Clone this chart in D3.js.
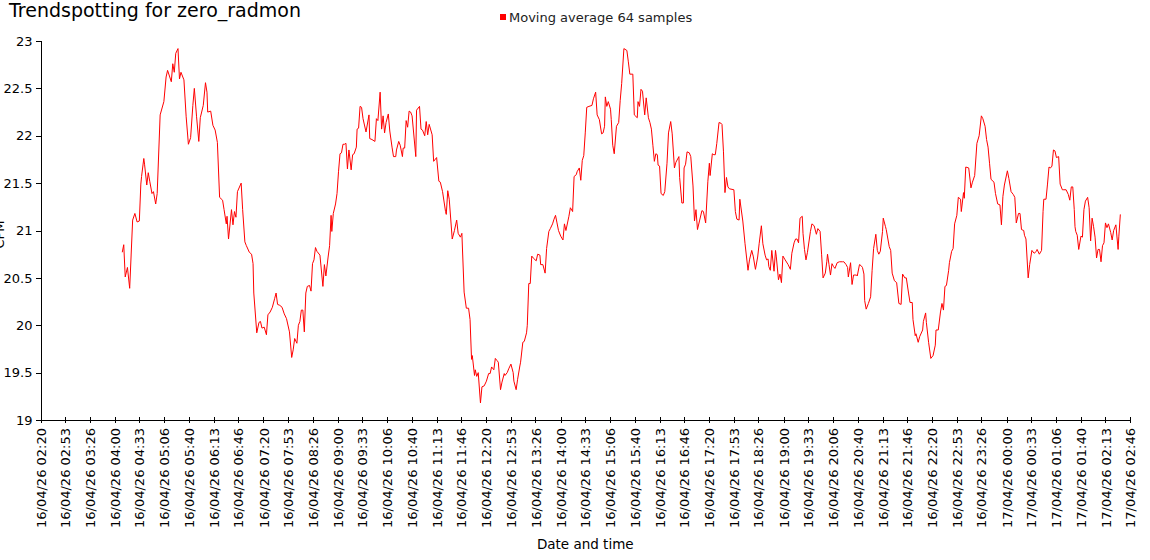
<!DOCTYPE html>
<html>
<head>
<meta charset="utf-8">
<script src="https://cdn.jsdelivr.net/npm/d3@7"></script>
<style>
  html, body { margin: 0; padding: 0; background: #fff; }
  svg { display: block; }
  text { font-family: "DejaVu Sans", Verdana, sans-serif; }
</style>
</head>
<body>
<svg id="chart" width="1150" height="560"></svg>
<script>
// ---- DATA ----
const chartTitle = "Trendspotting for zero_radmon";
const seriesName = "Moving average 64 samples";
const yAxisTitle = "CPM";
const xAxisTitle = "Date and time";

// sample times: minutes after 16/04/26 00:00
const sampleMinutes = [
250,252,254,257,260,264,267,270,273,275,276,279,280,283,285,287,290,292,295,297,
301,306,309,311,316,318,320,322,325,327,329,333,336,339,342,345,347,350,353,355,
359,362,364,365,369,372,375,378,381,385,387,390,391,393,397,399,401,403,405,410,
412,415,417,421,424,426,427,431,434,436,438,441,444,446,449,452,455,457,459,462,
465,468,471,475,478,480,482,485,487,489,491,493,495,
497,499,502,504,506,508,510,512,516,520,522,524,527,529,531,532,534,537,539,541,
543,545,547,549,551,553,555,558,560,562,565,566,568,570,572,574,578,582,583,586,
590,592,594,597,599,601,603,605,608,610,613,615,618,619,622,624,627,628,630,632,
634,636,638,640,645,646,650,652,654,657,659,661,663,667,669,673,676,678,681,685,
686,688,690,694,697,700,702,705,707,710,713,716,718,720,721,724,725,727,729,732,
734,737,740,743,
745,747,750,752,754,756,759,761,764,765,768,770,773,776,777,780,782,785,786,789,
791,794,795,797,799,801,803,807,809,812,813,816,819,821,824,826,829,831,833,835,
837,840,843,845,847,851,853,856,858,861,862,865,867,869,871,873,875,878,882,884,
887,889,892,895,897,899,900,902,904,907,908,910,912,915,918,920,922,925,929,931,
933,937,939,943,944,946,948,950,953,955,958,960,962,964,966,968,970,971,973,975,
978,980,983,985,988,990,993,995,999,1000,1003,1005,
1006,1008,1010,1013,1015,1018,1020,1022,1024,1027,1030,1032,1035,1038,1040,1041,1044,1046,1048,1050,
1053,1056,1057,1059,1061,1063,1065,1067,1073,1075,1077,1080,1081,1085,1088,1092,1094,1097,1099,1102,
1105,1107,1110,1112,1115,1117,1119,1120,1122,1124,1127,1129,1130,1133,1135,1137,1139,1142,1146,1149,
1151,1154,1156,1158,1160,1162,1165,1166,1168,1170,1172,1176,1178,1181,1184,1186,1189,1191,1193,1196,
1198,1199,1201,1203,1205,1207,1209,1212,1215,1219,1221,1224,1226,1227,1230,1232,1234,1238,1239,1242,
1244,1246,1248,1249,1251,1254,1257,
1259,1261,1264,1266,1268,1270,1273,1274,1277,1278,1282,1284,1286,1289,1292,1295,1298,1300,1303,1305,
1308,1310,1313,1314,1317,1318,1321,1323,1327,1328,1331,1332,1335,1338,1341,1344,1345,1348,1351,1353,
1355,1357,1359,1362,1363,1366,1368,1370,1373,1375,1378,1379,1382,1383,1385,1389,1392,1394,1397,1400,
1403,1406,1408,1411,1413,1415,1417,1419,1423,1425,1428,1431,1433,1435,1437,1441,1443,1446,1449,1451,
1453,1456,1458,1460,1463,1464,1466,1469,1471,1474,1477,1480,1481,1484,1487,1489,1490,1493,1495,1497,
1499,1501,1503,1505,1507,1510,1512,1515,1517,1520,1523,
1525,1527,1529,1531,1532,1533,1535,1537,1540,1542,1544,1546,1549,1551,1553,1555,1557,1559,1561,1563,
1565,1567,1569,1571,1573,1575,1577,1580,1582,1584,1587,1590,1591,1593
];

const sampleValues = [
20.77,20.85,20.51,20.61,20.39,21.11,21.18,21.09,21.10,21.49,21.57,21.76,21.70,21.48,21.61,21.52,21.39,21.41,21.28,21.39,
22.22,22.36,22.62,22.69,22.57,22.76,22.67,22.87,22.92,22.60,22.67,22.59,22.20,21.91,21.98,22.32,22.50,22.20,21.94,22.19,
22.32,22.56,22.46,22.25,22.26,22.11,22.06,21.93,21.35,21.32,21.22,21.07,21.15,20.91,21.22,21.06,21.20,21.14,21.41,21.50,
21.22,20.88,20.84,20.77,20.75,20.65,20.34,19.92,20.03,20.04,19.97,19.98,19.90,20.11,20.14,20.19,20.28,20.34,20.22,20.21,
20.19,20.12,20.07,19.93,19.66,19.74,19.86,19.81,20.00,20.04,20.16,20.16,19.93,
20.34,20.41,20.42,20.36,20.65,20.69,20.82,20.78,20.74,20.41,20.64,20.52,20.72,20.84,21.16,20.99,21.18,21.28,21.39,21.62,
21.81,21.82,21.91,21.91,21.92,21.65,21.85,21.64,21.80,21.81,21.88,22.07,22.08,22.31,22.30,22.18,22.04,22.22,21.97,21.96,
21.94,22.18,22.16,22.46,22.07,22.21,22.03,22.14,22.23,22.05,21.88,21.78,21.78,21.85,21.94,21.90,21.78,21.87,21.87,22.16,
22.09,22.26,22.25,22.21,21.78,22.27,22.31,22.07,22.06,22.00,22.15,22.01,22.12,22.01,21.73,21.77,21.52,21.51,21.41,21.20,
21.17,21.42,21.33,20.91,21.00,21.11,20.97,20.93,20.97,20.35,20.18,20.18,20.06,19.64,19.68,19.47,19.53,19.46,19.50,19.18,
19.35,19.36,19.41,19.49,
19.49,19.56,19.53,19.65,19.63,19.61,19.32,19.40,19.49,19.47,19.50,19.54,19.59,19.50,19.41,19.32,19.43,19.57,19.61,19.82,
19.83,19.92,20.00,20.44,20.44,20.73,20.71,20.68,20.75,20.74,20.64,20.64,20.55,20.81,20.99,21.02,21.07,21.12,21.16,21.08,
21.00,20.94,20.90,21.07,21.00,21.15,21.24,21.20,21.57,21.59,21.62,21.66,21.53,21.74,21.79,22.03,22.30,22.31,22.32,22.39,
22.46,22.22,22.17,22.02,22.03,22.10,22.41,22.31,22.36,22.28,22.17,21.90,21.81,22.10,22.14,22.37,22.55,22.92,22.90,22.78,
22.65,22.65,22.22,22.19,22.36,22.31,22.49,22.47,22.22,22.40,22.19,22.14,22.07,21.90,21.73,21.81,21.80,21.69,21.68,21.39,
21.37,21.41,21.71,22.03,22.15,22.02,21.66,21.72,21.78,21.56,21.29,21.29,
21.66,21.70,21.83,21.82,21.78,21.47,21.10,21.22,21.01,21.11,21.21,21.20,21.08,21.52,21.71,21.58,21.81,21.80,21.80,21.92,
22.14,22.13,22.12,21.83,21.40,21.56,21.46,21.44,21.43,21.20,21.12,21.11,21.33,21.10,20.86,20.58,20.69,20.79,20.73,20.59,
20.72,20.86,21.05,20.86,20.74,20.69,20.70,20.62,20.58,20.79,20.57,20.79,20.73,20.48,20.54,20.45,20.73,20.69,20.64,20.59,
20.76,20.87,20.91,20.91,20.87,21.13,21.15,20.97,20.80,20.69,20.77,20.99,21.07,21.05,20.96,21.02,20.99,20.75,20.50,20.55,
20.67,20.75,20.64,20.53,20.65,20.62,20.60,20.66,20.67,20.67,20.67,20.64,20.61,20.51,20.66,20.43,20.53,20.53,20.52,20.64,
20.63,20.61,20.54,20.26,20.17,20.23,20.30,
20.58,20.81,20.96,20.79,20.75,20.78,20.99,21.13,21.04,21.01,20.83,20.79,20.55,20.47,20.45,20.23,20.22,20.54,20.50,20.50,
20.34,20.24,20.24,20.06,19.89,19.91,19.82,19.88,19.95,20.04,20.13,20.03,19.82,19.65,19.68,19.79,19.95,19.95,20.14,20.23,
20.16,20.41,20.42,20.58,20.66,20.78,20.81,21.07,21.16,21.35,21.33,21.20,21.40,21.34,21.67,21.66,21.45,21.51,21.58,21.92,
22.00,22.21,22.18,22.10,21.96,21.88,21.71,21.54,21.51,21.39,21.28,21.27,21.06,21.36,21.48,21.63,21.55,21.41,21.38,21.35,
21.08,21.18,21.18,21.01,21.00,20.95,20.91,20.50,20.64,20.79,20.76,20.78,20.80,20.75,20.79,21.20,21.33,21.33,21.49,21.67,
21.66,21.68,21.85,21.84,21.77,21.78,21.49,21.43,21.43,21.43,21.38,
21.32,21.46,21.46,21.22,21.04,20.99,20.95,20.80,20.94,20.93,21.22,21.31,21.35,21.24,20.89,21.13,21.04,20.93,20.71,20.80,
20.80,20.67,20.84,20.87,21.08,21.03,21.07,20.98,20.90,21.00,21.06,20.80,20.94,21.17
];

const yTickLabels = ["19","19.5","20","20.5","21","21.5","22","22.5","23"];
const xTickLabels = [
"16/04/26 02:20","16/04/26 02:53","16/04/26 03:26","16/04/26 04:00","16/04/26 04:33",
"16/04/26 05:06","16/04/26 05:40","16/04/26 06:13","16/04/26 06:46","16/04/26 07:20",
"16/04/26 07:53","16/04/26 08:26","16/04/26 09:00","16/04/26 09:33","16/04/26 10:06",
"16/04/26 10:40","16/04/26 11:13","16/04/26 11:46","16/04/26 12:20","16/04/26 12:53",
"16/04/26 13:26","16/04/26 14:00","16/04/26 14:33","16/04/26 15:06","16/04/26 15:40",
"16/04/26 16:13","16/04/26 16:46","16/04/26 17:20","16/04/26 17:53","16/04/26 18:26",
"16/04/26 19:00","16/04/26 19:33","16/04/26 20:06","16/04/26 20:40","16/04/26 21:13",
"16/04/26 21:46","16/04/26 22:20","16/04/26 22:53","16/04/26 23:26","17/04/26 00:00",
"17/04/26 00:33","17/04/26 01:06","17/04/26 01:40","17/04/26 02:13","17/04/26 02:46"
];

// ---- CHART ----
const svg = d3.select("#chart");
const m = { left: 40.5, top: 41 };
const innerW = 1130 - m.left, innerH = 420 - m.top;

const parseLabel = d3.timeParse("%d/%m/%y %H:%M");
const base = new Date(2026, 3, 16, 0, 0, 0);
const tickDates = xTickLabels.map(parseLabel);

const data = sampleMinutes.map((mm, i) => ({
  t: new Date(base.getTime() + mm * 60000),
  v: sampleValues[i]
}));

const x = d3.scaleTime()
  .domain([tickDates[0], tickDates[tickDates.length - 1]])
  .range([m.left, m.left + innerW]);
const yVals = yTickLabels.map(Number);
const y = d3.scaleLinear()
  .domain([d3.min(yVals), d3.max(yVals)])
  .range([m.top + innerH, m.top]);

// line
const line = d3.line().x(d => x(d.t)).y(d => y(d.v));
svg.append("path")
  .datum(data)
  .attr("fill", "none")
  .attr("stroke", "#ff0000")
  .attr("stroke-width", 1)
  .attr("stroke-linejoin", "round")
  .attr("d", line);

// x axis
const xAxis = d3.axisBottom(x)
  .tickValues(tickDates)
  .tickFormat((d, i) => xTickLabels[i])
  .tickSize(3)
  .tickPadding(5);
const gx = svg.append("g")
  .attr("transform", `translate(0,${m.top + innerH})`)
  .call(xAxis);
gx.select(".domain").attr("stroke", "#000").attr("d", `M${m.left},0.5H${m.left + innerW}`);
gx.selectAll(".tick line").attr("stroke", "#000").attr("y1", -3).attr("y2", 3);
gx.selectAll(".tick text")
  .attr("fill", "#000")
  .style("font-size", "13px")
  .attr("transform", "rotate(-90)")
  .attr("text-anchor", "end")
  .attr("x", -8)
  .attr("y", 0)
  .attr("dy", "0.35em");

// y axis
const yAxis = d3.axisLeft(y)
  .tickValues(yVals)
  .tickFormat((d, i) => yTickLabels[i])
  .tickSize(5)
  .tickPadding(3);
const gy = svg.append("g")
  .attr("transform", `translate(${m.left},0)`)
  .call(yAxis);
gy.select(".domain").attr("stroke", "#000").attr("d", `M0.5,${m.top}V${m.top + innerH}`);
gy.selectAll(".tick line").attr("stroke", "#000");
gy.selectAll(".tick text").attr("fill", "#000").style("font-size", "13px");
gx.selectAll(".domain, .tick line").attr("shape-rendering", "crispEdges");
gy.selectAll(".domain, .tick line").attr("shape-rendering", "crispEdges");

// axis titles
svg.append("text")
  .attr("x", m.left + innerW / 2)
  .attr("y", 549)
  .attr("text-anchor", "middle")
  .style("font-size", "13.5px")
  .attr("fill", "#000")
  .text(xAxisTitle);

svg.append("text")
  .attr("transform", `translate(4,${m.top + innerH / 2 + 4}) rotate(-90)`)
  .attr("text-anchor", "middle")
  .style("font-size", "13px")
  .attr("fill", "#000")
  .text(yAxisTitle);

// title
svg.append("text")
  .attr("x", 9)
  .attr("y", 17)
  .style("font-size", "19px")
  .attr("fill", "#000")
  .text(chartTitle);

// legend
const lg = svg.append("g").attr("transform", "translate(500,13)");
lg.append("rect").attr("x", 0).attr("y", 1).attr("width", 6).attr("height", 6).attr("fill", "#ff0000");
lg.append("text")
  .attr("x", 9)
  .attr("y", 9)
  .style("font-size", "13px")
  .attr("fill", "#222")
  .text(seriesName);
</script>
</body>
</html>
